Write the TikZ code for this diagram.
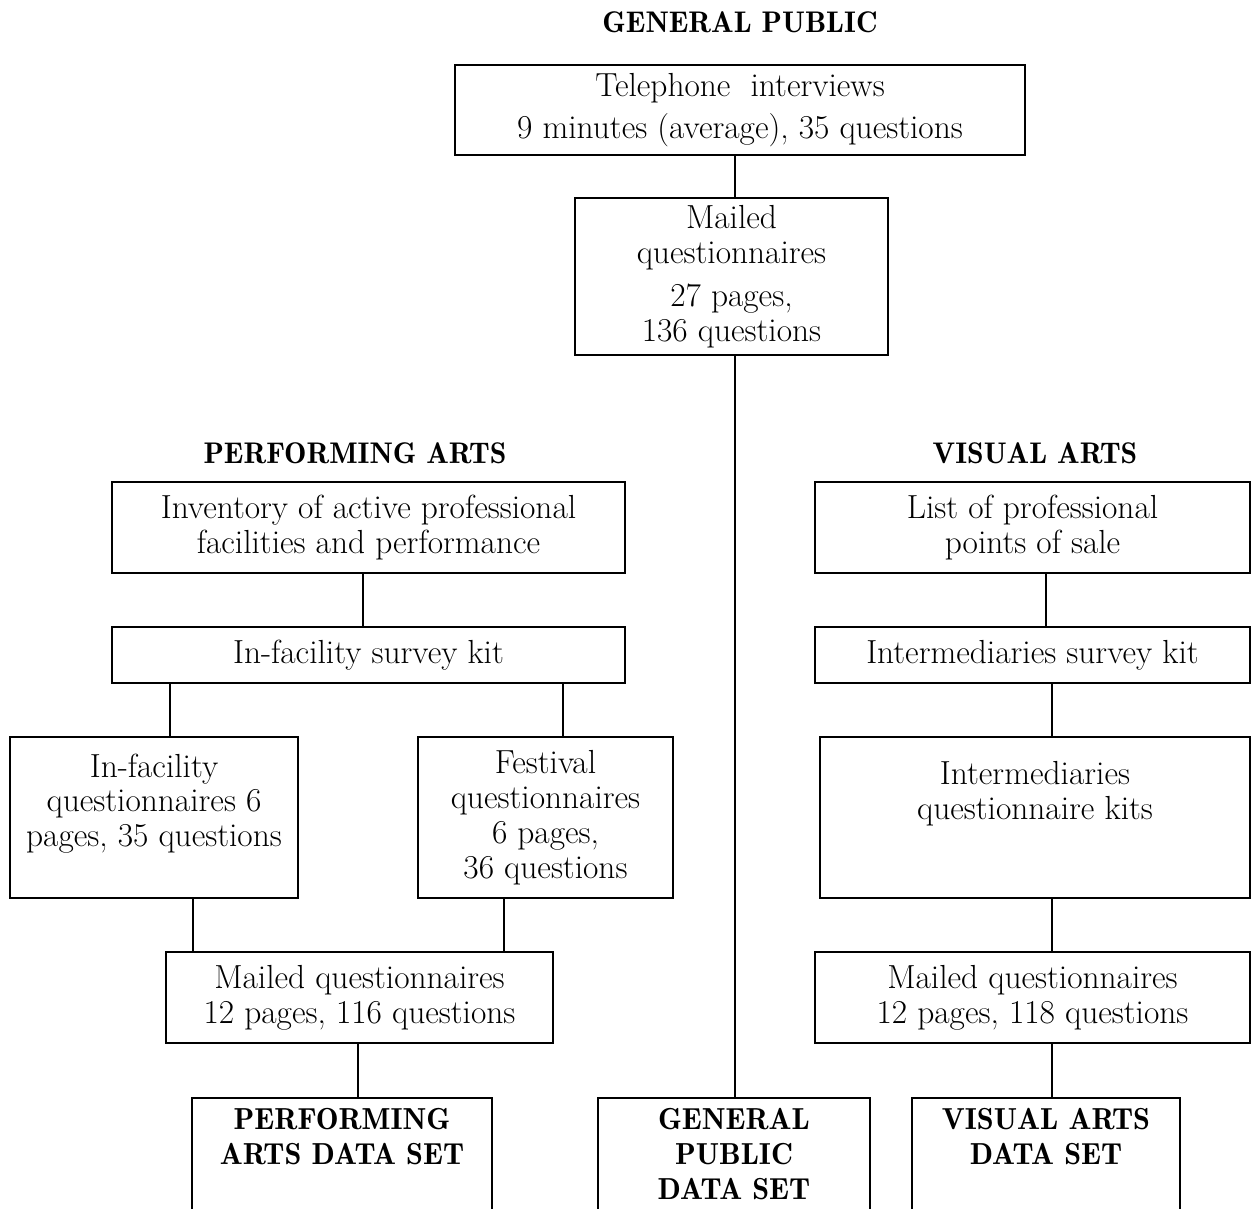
\documentclass[tikz,border=0pt]{standalone}
\usepackage{fontspec}
\newfontfamily\headfont{lmromandemi10-regular.otf}
\begin{document}
\begin{tikzpicture}[
	x=0.02cm, y=-0.02cm,
	line width=1.2pt,
	every node/.style={font=\fontsize{19}{19.8}\selectfont, align=center},
	box/.style={rectangle, draw=black, inner sep=2pt},
	head/.style={font=\fontsize{17}{19.8}\headfont},
	dataset/.style={box, anchor=north, inner sep=6pt, font=\fontsize{17.3}{19.8}\headfont},
]
\useasboundingbox (0,0) rectangle (1257,1208);
\clip (0,0) rectangle (1257,1208);
% general public
\node [head] (gphead) at (740,22) {GENERAL PUBLIC};
\node [box, minimum width=11.4cm, minimum height=1.8cm] (tel) at (740,110) {Telephone~ interviews\\[4pt]9 minutes (average), 35 questions};
\node [box, minimum width=6.26cm, minimum height=3.14cm] (gpmail) at (731.5,276.5) {Mailed\\questionnaires\\[5pt]27 pages,\\136 questions};
\node [dataset, minimum width=5.44cm] (gpds) at (734,1097) {GENERAL\\PUBLIC\\DATA SET\\~};
% performing arts
\node [head] (pahead) at (355,453) {PERFORMING ARTS};
\node [box, minimum width=10.26cm, minimum height=1.82cm] (inv) at (368.5,527.5) {Inventory of active professional\\facilities and performance};
\node [box, minimum width=10.26cm, minimum height=1.12cm] (kit) at (368.5,655) {In-facility survey kit};
\node [box, minimum width=5.76cm, minimum height=3.22cm] (infq) at (154,817.5) {In-facility\\questionnaires 6\\pages, 35 questions\\~};
\node [box, minimum width=5.1cm, minimum height=3.22cm] (festq) at (545.5,817.5) {Festival\\questionnaires\\6 pages,\\36 questions};
\node [box, minimum width=7.74cm, minimum height=1.82cm] (pamail) at (359.5,997.5) {Mailed questionnaires\\12 pages, 116 questions};
\node [dataset, minimum width=6cm] (pads) at (342,1097) {PERFORMING\\ARTS DATA SET\\~\\~};
% visual arts
\node [head] (vahead) at (1035,453) {VISUAL ARTS};
\node [box, minimum width=8.7cm, minimum height=1.82cm] (valist) at (1032.5,527.5) {List of professional\\points of sale};
\node [box, minimum width=8.7cm, minimum height=1.12cm] (vakit) at (1032.5,655) {Intermediaries survey kit};
\node [box, minimum width=8.6cm, minimum height=3.22cm] (vaq) at (1035,817.5) {Intermediaries\\questionnaire kits\\[11pt]\mbox{}};
\node [box, minimum width=8.7cm, minimum height=1.82cm] (vamail) at (1032.5,997.5) {Mailed questionnaires\\12 pages, 118 questions};
\node [dataset, minimum width=5.36cm] (vads) at (1046,1097) {VISUAL ARTS\\DATA SET\\~\\~};
% connectors
\draw (tel.south -| 735,0) -- (gpmail.north -| 735,0);
\draw (gpmail.south -| 735,0) -- (gpds.north -| 735,0);
\draw (inv.south -| 363,0) -- (kit.north -| 363,0);
\draw (kit.south -| 170,0) -- (infq.north -| 170,0);
\draw (kit.south -| 563,0) -- (festq.north -| 563,0);
\draw (infq.south -| 193,0) -- (pamail.north -| 193,0);
\draw (festq.south -| 504,0) -- (pamail.north -| 504,0);
\draw (pamail.south -| 358,0) -- (pads.north -| 358,0);
\draw (valist.south -| 1046,0) -- (vakit.north -| 1046,0);
\draw (vakit.south -| 1052,0) -- (vaq.north -| 1052,0);
\draw (vaq.south -| 1052,0) -- (vamail.north -| 1052,0);
\draw (vamail.south -| 1052,0) -- (vads.north -| 1052,0);
\end{tikzpicture}
\end{document}
